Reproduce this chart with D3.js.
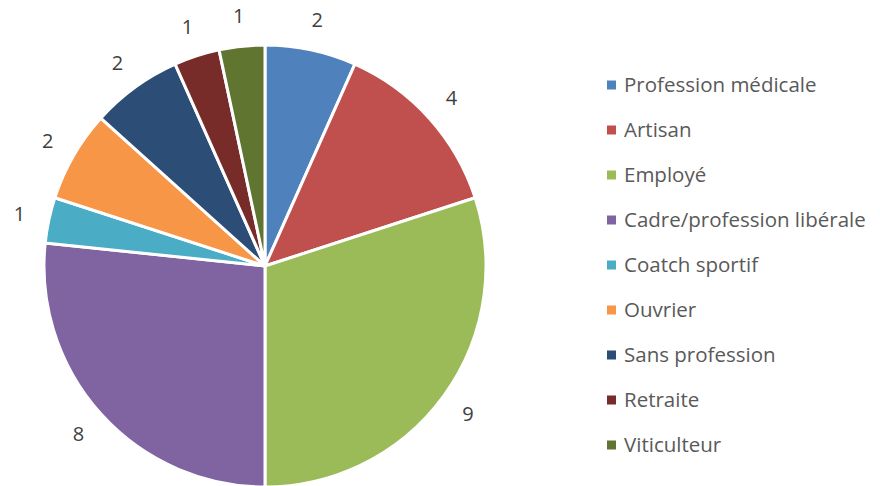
<!DOCTYPE html>
<html><head><meta charset="utf-8">
<script src="https://cdn.jsdelivr.net/npm/d3@7"></script>
<style>body{margin:0;background:#fff}svg{display:block}</style>
</head><body><svg width="880" height="486"></svg>
<script>
const categories = ["Profession médicale","Artisan","Employé","Cadre/profession libérale","Coatch sportif","Ouvrier","Sans profession","Retraite","Viticulteur"];
const values = [2,4,9,8,1,2,2,1,1];
const colors = ["#4F81BD","#C0504D","#9BBB59","#8064A2","#4BACC6","#F79646","#2C4D75","#772C2A","#5F7530"];

const svg = d3.select("svg");
const cx = 265, cy = 266, R = 221, LR = 251;
const data = categories.map((c,i)=>({c, v: values[i], col: colors[i]}));
const pie = d3.pie().value(d=>d.v).sort(null);
const arcs = pie(data);
const arc = d3.arc().innerRadius(0).outerRadius(R);
const g = svg.append("g").attr("transform",`translate(${cx},${cy})`);
g.selectAll("path").data(arcs).join("path")
  .attr("d", arc).attr("fill", d=>d.data.col)
  .attr("stroke","#fff").attr("stroke-width",3).attr("stroke-linejoin","round");
const larc = d3.arc().innerRadius(LR).outerRadius(LR);
g.selectAll("text").data(arcs).join("text")
  .attr("transform", d=>`translate(${larc.centroid(d)})`)
  .attr("text-anchor","middle").attr("dy","0.35em")
  .attr("font-family","'Open Sans', sans-serif").attr("font-size",20)
  .attr("fill","#404040").text(d=>d.data.v);

const lg = svg.append("g");
const items = lg.selectAll("g").data(data).join("g")
  .attr("transform",(d,i)=>`translate(607,${85+i*45})`);
items.append("rect").attr("x",0).attr("y",-4.5).attr("width",9).attr("height",9).attr("fill",d=>d.col);
items.append("text").attr("x",17).attr("dy","0.35em")
  .attr("font-family","'Open Sans', sans-serif").attr("font-size",20.5)
  .attr("fill","#595959").text(d=>d.c);
</script></body></html>
